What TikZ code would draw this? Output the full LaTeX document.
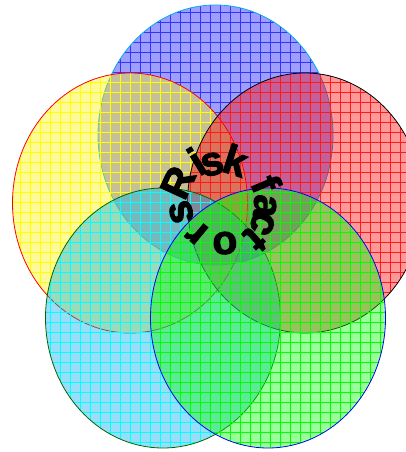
\documentclass[tikz,border=0pt]{standalone}
\usepackage{fontspec}
\newfontfamily\ringfont{Liberation Sans}[BoldFeatures={FakeBold=2.5}]
\usetikzlibrary{shapes.geometric, patterns.meta}

\begin{document}
\begin{tikzpicture}[x=1pt, y=1pt,
	petal/.style={ellipse, minimum width=235pt, minimum height=260pt, inner sep=0pt, line width=0.8pt,
		pattern={Hatch[distance=10pt, line width=0.45pt]}, fill opacity=0.35},
	letter/.style={font=\ringfont\bfseries\fontsize{41}{41}\selectfont, inner sep=0pt, anchor=center},
	]
	\useasboundingbox (0,0) rectangle (405,452);
	% Ellipses:
	\node[petal, draw=cyan, pattern color=blue!80, preaction={fill=blue, fill opacity=0.38}](Top) at (215.5, 317){};
	\node[petal, draw=red, pattern color=yellow, preaction={fill=yellow, fill opacity=0.4}](Left) at (130, 249){};
	\node[petal, draw=black, pattern color=red!90, preaction={fill=red, fill opacity=0.4}](Right) at (305, 249){};
	\node[petal, draw=green!40!black, pattern color=cyan, preaction={fill=cyan, fill opacity=0.4}](LowLeft) at (163, 134){};
	\node[petal, draw=blue, pattern color=green, preaction={fill=green, fill opacity=0.4}](LowRight) at (268, 134){};
	% Letters round the middle:
	\coordinate (Mid) at (222, 249.5);
	\foreach \ch/\ang/\rad [count=\k] in {R/155.5/48.5, i/121.6/48.7, s/104.2/39.5, k/72.0/44.5, f/22.8/48.2, a/-4.8/43.0,
		c/-27.1/45.5, t/-48.3/49.5, o/-85.9/40.7, r/-129.7/39.3, s/-166.7/42.0}
		\node[letter, rotate=\ang-90](L\k) at ([shift={(Mid)}] \ang:\rad pt){\ch};
\end{tikzpicture}
\end{document}
